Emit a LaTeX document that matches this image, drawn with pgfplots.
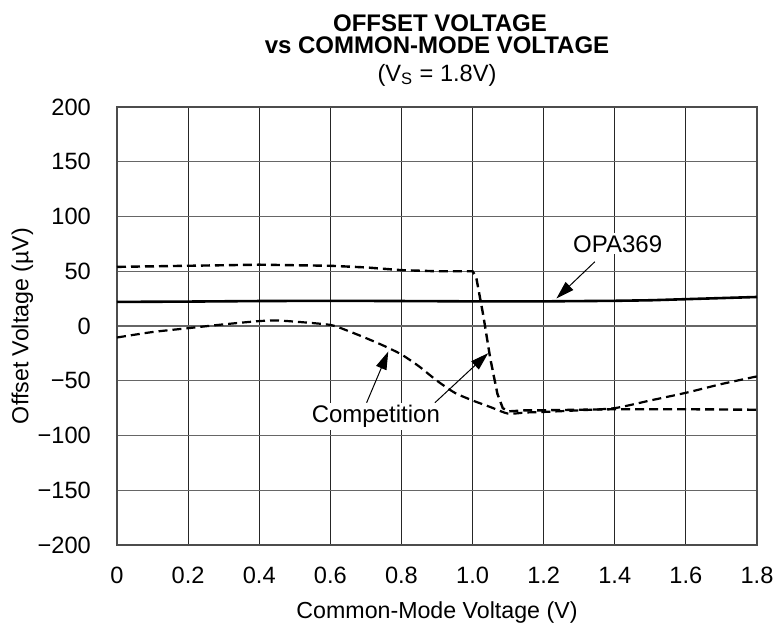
\documentclass[border=0pt]{standalone}
\usepackage{fontspec}
\setmainfont{Liberation Sans}
\usepackage{pgfplots}
\pgfplotsset{compat=1.18}
\usetikzlibrary{arrows.meta}
\begin{document}
\fontsize{11.6}{13.5}\selectfont
\begin{tikzpicture}
\useasboundingbox (-58.5pt,-40.5pt) rectangle (330pt,272.5pt);
\begin{axis}[
  scale only axis, width=320pt, height=219pt,
  xmin=0, xmax=1.8, ymin=-200, ymax=200,
  xtick={0,0.2,0.4,0.6,0.8,1.0,1.2,1.4,1.6,1.8},
  xticklabels={0,0.2,0.4,0.6,0.8,1.0,1.2,1.4,1.6,1.8},
  ytick={-200,-150,-100,-50,0,50,100,150,200},
  yticklabels={−200,−150,−100,−50,0,50,100,150,200},
  major tick length=0pt,
  grid=major,
  x grid style={black!85, line width=0.6pt},
  y grid style={black!60, line width=0.6pt},
  axis line style={black!70, line width=1.3pt},
  tick label style={font=\fontsize{11.8}{13.5}\selectfont},
  xticklabel style={yshift=-7pt},
  yticklabel style={xshift=-9pt},
  xlabel={Common-Mode Voltage (V)},
  ylabel={Offset Voltage (µV)},
  label style={font=\fontsize{11.6}{13.5}\selectfont},
  xlabel style={at={(axis description cs:0.5,-0.153)}, anchor=center},
  ylabel style={at={(axis description cs:-0.148,0.5)}, anchor=center},
  clip=false,
]
% OPA369
\addplot[black, line width=1.3pt] coordinates {
(0,22) (0.2,22.3) (0.4,22.8) (0.6,23) (0.8,22.8) (1.0,22.5) (1.2,22.5) (1.4,23) (1.5,23.5) (1.6,24.5) (1.7,25.5) (1.8,26.5)};
% Competition A
\addplot[black, line width=1.2pt, dash pattern=on 4.5pt off 2.5pt] coordinates {
(0,54) (0.1,54.5) (0.2,55) (0.3,55.5) (0.4,56) (0.5,55.5) (0.6,55) (0.7,53.5) (0.8,51) (0.9,50) (1.0,50) (1.01,45) (1.03,10) (1.05,-30) (1.07,-62) (1.085,-75) (1.1,-78) (1.15,-77) (1.2,-77) (1.3,-76.5) (1.4,-76) (1.6,-76) (1.8,-76.5)};
% Competition B
\addplot[black, line width=1.1pt, dash pattern=on 4.5pt off 2.5pt, smooth, tension=0.4] coordinates {
(0,-10.5) (0.1,-5.5) (0.2,-2) (0.3,1.5) (0.4,4.5) (0.45,5) (0.5,4) (0.6,1) (0.65,-4.5) (0.7,-11) (0.75,-18) (0.8,-26) (0.85,-37) (0.9,-50) (0.95,-61) (1.0,-68) (1.05,-74) (1.1,-80) (1.15,-79) (1.2,-78.5) (1.3,-77) (1.4,-75) (1.5,-68) (1.6,-61) (1.7,-53) (1.8,-46)};
% annotations
\draw[black, line width=0.5pt, -{Triangle[length=9pt,width=5.5pt]}] (axis cs:1.344,58.7) -- (axis cs:1.236,25.2);
\draw[black, line width=0.5pt, -{Triangle[length=9pt,width=5.5pt]}] (axis cs:0.702,-70.1) -- (axis cs:0.763,-23.3);
\draw[black, line width=0.5pt, -{Triangle[length=9pt,width=5.5pt]}] (axis cs:0.894,-70.1) -- (axis cs:1.044,-24.8);
\node[fill=white, inner sep=1pt, font=\fontsize{12}{14}\selectfont] at (axis cs:1.408,74.9) {OPA369};
\node[fill=white, inner sep=1pt, font=\fontsize{12}{14}\selectfont] at (axis cs:0.728,-82.8) {Competition};
\end{axis}
\node[font=\fontsize{12}{14}\selectfont\bfseries] at (161.5pt,261pt) {OFFSET VOLTAGE};
\node[font=\fontsize{12}{14}\selectfont\bfseries] at (160pt,250pt) {vs COMMON-MODE VOLTAGE};
\node[font=\fontsize{11.8}{14}\selectfont] at (160pt,235pt) {(V\textsubscript{S} = 1.8V)};
\end{tikzpicture}
\end{document}
